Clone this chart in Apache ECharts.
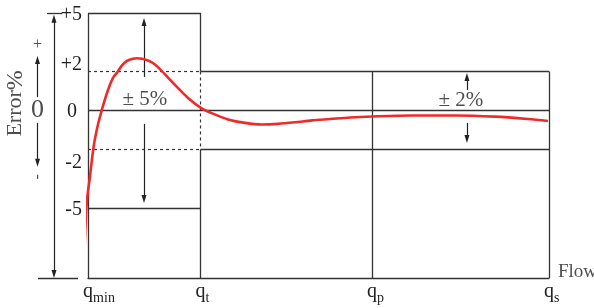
<!DOCTYPE html>
<html>
<head>
    <meta http-equiv="content-type" content="text/html;charset=utf-8" />
    <title>Meter error curve</title>
    <script src="https://cdn.jsdelivr.net/npm/echarts@6/dist/echarts.min.js"></script>
    <style type="text/css">
        * { margin: 0; padding: 0 }
        html, body { background: #fff; }
        #chart { width: 594px; height: 308px; }
    </style>
</head>
<body>
<div id="chart"></div>
<script>
    // flow points on the x axis (qmin = 0, qs = 100)
    var flowNames = ['min', 't', 'p', 's'];
    var flowPos = [0, 24.4, 61.6, 100];

    // error axis, %
    var errTicks = [5, 2, 0, -2, -5];
    var errLow = -8.6;
    var wideLimit = 5;    // qmin .. qt
    var narrowLimit = 2;  // qt .. qs

    // meter error curve
    var curveFlow = [-0.80, -0.54, -0.22, 0.43, 1.15, 1.89, 2.97, 4.34, 5.42, 6.44, 7.38, 8.46, 9.54, 10.63, 11.71, 13.02, 14.53, 16.12, 18.87, 21.76,
        24.66, 26.83, 30.37, 34.06, 37.74, 41.21, 44.90, 48.59, 52.49, 56.83, 61.61, 70.28, 79.61, 88.29, 95.44, 99.78];
    var curveErr = [-7.56, -5.87, -4.59, -3.39, -1.97, -1.00, 0, 1.05, 1.67, 1.99, 2.31, 2.54, 2.64, 2.68, 2.65, 2.56, 2.36, 1.99, 1.31, 0.63,
        0.11, -0.14, -0.46, -0.64, -0.72, -0.69, -0.61, -0.51, -0.44, -0.36, -0.31, -0.26, -0.26, -0.32, -0.44, -0.54];

    var serif = '"Liberation Serif", "DejaVu Serif", serif';
    var ink = '#222';
    var lineInk = '#333';

    var qMin = flowPos[0], qT = flowPos[1], qP = flowPos[2], qS = flowPos[3];
    var axisX = -7.38;   // the left error arrow

    var solidSegs = [
        [[qMin, wideLimit], [qT, wideLimit]],
        [[qMin, wideLimit], [qMin, errLow]],
        [[qT, wideLimit], [qT, narrowLimit]],
        [[qT, -narrowLimit], [qT, errLow]],
        [[qMin, -wideLimit], [qT, -wideLimit]],
        [[qMin, 0], [qS, 0]],
        [[qT, narrowLimit], [qS, narrowLimit]],
        [[qT, -narrowLimit], [qS, -narrowLimit]],
        [[qP, narrowLimit], [qP, errLow]],
        [[qS, narrowLimit], [qS, errLow]],
        [[-8.9, wideLimit], [-5.6, wideLimit]],
        [[-10.85, errLow], [-2.17, errLow]]
    ];
    var dashSegs = [
        [[qMin, narrowLimit], [qT, narrowLimit]],
        [[qMin, -narrowLimit], [qT, -narrowLimit]],
        [[qT, narrowLimit], [qT, -narrowLimit]]
    ];
    var arrowSegs = [
        [[12.15, 1.72], [12.15, 4.54]],
        [[12.15, -0.69], [12.15, -4.54]],
        [[82.2, 1.05], [82.2, 1.72]],
        [[82.2, -0.64], [82.2, -1.46]],
        [[-10.95, 0.69], [-10.95, 2.59]],
        [[-10.95, -0.64], [-10.95, -2.69]]
    ];

    var curve = [];
    for (var i = 0; i < curveFlow.length; i++) {
        curve.push([curveFlow[i], curveErr[i]]);
    }

    function toLines(segs) {
        return segs.map(function (s) { return { coords: s }; });
    }

    // y tick labels sit a little off their lines in the drawing
    var tickShift = [2, -7, 1, 13, 2];
    var tickPadRight = [0, 0, 5, 0, 0];
    var yRich = {};
    errTicks.forEach(function (v, k) {
        var s = tickShift[k];
        yRich['t' + k] = {
            fontFamily: serif, fontSize: 20, color: ink,
            padding: [s > 0 ? 2 * s : 0, tickPadRight[k], s < 0 ? -2 * s : 0, 0]
        };
    });

    var subWidth = [22, 4, 7, 5.5];
    var xRich = {
        q: { fontFamily: serif, fontSize: 20, color: ink, lineHeight: 20, padding: [0, 0, 3, 0], verticalAlign: 'bottom' },
        sub: { fontFamily: serif, fontSize: 14, color: ink, lineHeight: 15, verticalAlign: 'bottom' }
    };
    subWidth.forEach(function (w, k) {
        xRich['pad' + k] = { width: w, fontSize: 14, lineHeight: 15 };
    });

    function note(x, y, text, size, rotate, rich, align) {
        return {
            value: [x, y],
            label: { formatter: text, fontSize: size, rotate: rotate || 0, rich: rich, align: align || 'center' }
        };
    }

    var notes = [
        note(12.36, 0.55, '± 5%', 21),
        note(80.9, 0.50, '± 2%', 21),
        note(-10.95, 3.36, '+', 16),
        note(-10.95, 0, '0', 26),
        note(-10.95, -3.41, '-', 16, 90),
        note(-15.73, 0.36, '{a|Error}{b|%}', 22, 90, {
            a: { fontFamily: serif, fontSize: 22, color: ink },
            b: { fontFamily: serif, fontSize: 24, color: ink }
        }),
        note(101.95, -8.3, 'Flow', 19, 0, null, 'left')
    ];

    var chart = echarts.init(document.getElementById('chart'));
    chart.setOption({
        animation: false,
        grid: { left: 88, right: 45, top: 13, bottom: 30 },
        xAxis: {
            type: 'value',
            min: 0,
            max: 100,
            splitLine: { show: false },
            axisTick: { show: false },
            axisLine: { onZero: false, lineStyle: { color: lineInk, width: 1.3 } },
            axisLabel: {
                customValues: flowPos,
                margin: 7,
                formatter: function (v) {
                    var k = flowPos.indexOf(v);
                    return '{pad' + k + '| }{q|q}{sub|' + flowNames[k] + '}';
                },
                rich: xRich
            }
        },
        yAxis: {
            type: 'value',
            min: errLow,
            max: wideLimit,
            splitLine: { show: false },
            axisTick: { show: false },
            axisLine: { show: false },
            axisLabel: {
                customValues: errTicks,
                margin: 6,
                formatter: function (v) {
                    var k = errTicks.indexOf(v);
                    return '{t' + k + '|' + (v > 0 ? '+' + v : String(v)) + '}';
                },
                rich: yRich
            }
        },
        series: [
            {
                type: 'lines',
                coordinateSystem: 'cartesian2d',
                clip: false,
                silent: true,
                lineStyle: { color: lineInk, width: 1.3, opacity: 1 },
                data: toLines(solidSegs)
            },
            {
                type: 'lines',
                coordinateSystem: 'cartesian2d',
                clip: false,
                silent: true,
                lineStyle: { color: lineInk, width: 1.2, opacity: 1, type: [3, 3] },
                data: toLines(dashSegs)
            },
            {
                type: 'lines',
                coordinateSystem: 'cartesian2d',
                clip: false,
                silent: true,
                symbol: ['none', 'triangle'],
                symbolSize: [[5, 8], [5, 8]],
                lineStyle: { color: ink, width: 1.2, opacity: 1 },
                data: toLines(arrowSegs)
            },
            {
                type: 'lines',
                coordinateSystem: 'cartesian2d',
                clip: false,
                silent: true,
                symbol: ['triangle', 'triangle'],
                symbolSize: [[5, 8], [5, 8]],
                lineStyle: { color: ink, width: 1.2, opacity: 1 },
                data: toLines([[[axisX, -8.39], [axisX, 4.7]]])
            },
            {
                name: 'Error',
                type: 'line',
                data: curve,
                smooth: 0.3,
                showSymbol: false,
                clip: false,
                z: 5,
                lineStyle: { color: '#ee2a2a', width: 2.6 }
            },
            {
                type: 'scatter',
                clip: false,
                silent: true,
                symbolSize: 1,
                itemStyle: { color: 'transparent' },
                label: { show: true, position: 'inside', fontFamily: serif, color: ink },
                data: notes
            }
        ]
    });
</script>
</body>
</html>
